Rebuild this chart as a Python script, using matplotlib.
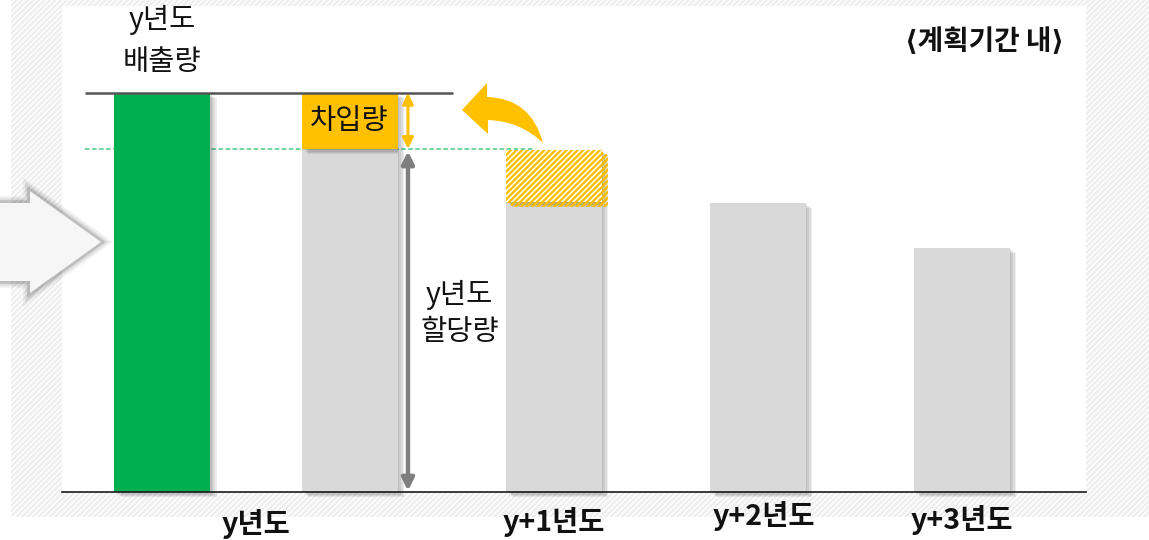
import matplotlib
matplotlib.use('Agg')
import matplotlib.pyplot as plt
import matplotlib.patches as mpatches
import matplotlib.patheffects as pe
from matplotlib.path import Path

plt.rcParams['font.family'] = ['Noto Sans CJK KR', 'DejaVu Sans']
plt.rcParams['hatch.linewidth'] = 1.7

# ---------------- data ----------------
categories = ['y년도', 'y+1년도', 'y+2년도', 'y+3년도']
emission_y = 100.0                      # y년도 배출량
allocations = [86.0, 72.7, 72.4, 61.2]  # 할당량 per year
borrowing_y = 14.0                      # 차입량 (box on y-year allocation)
borrowed_y1 = 13.0                      # hatched part taken from y+1
emission_label = ['y년도', '배출량']
allocation_label = 'y년도\n할당량'
borrow_label = '차입량'
period_label = '⟨계획기간 내⟩'

# ---------------- layout ----------------
W, H = 1149, 540
fig = plt.figure(figsize=(W / 100, H / 100), dpi=100)


def fpt(x, y):
    """top-left pixel -> figure fraction"""
    return (x / W, 1 - y / H)


# hatched background
bg = mpatches.Rectangle(fpt(11, 517), (W - 11) / W, 517 / H, transform=fig.transFigure,
                        facecolor='white', edgecolor='#eeeeee', hatch='//////', lw=0, zorder=-5)
fig.patches.append(bg)

ax = fig.add_axes([62 / W, 1 - 492 / H, (1086 - 62) / W, (492 - 6) / H])
ax.set_facecolor('white')
ax.set_xlim(-0.49, 4.53)
ax.set_ylim(0, 121.8)
for s in ['top', 'right', 'left']:
    ax.spines[s].set_visible(False)
ax.spines['bottom'].set_color('#1a1a1a')
ax.spines['bottom'].set_linewidth(1.2)
ax.spines['bottom'].set_zorder(6)
ax.set_xticks([])
ax.set_yticks([])

x_green = 0.0
bar_x = [0.92, 1.92, 2.92, 3.92]
bw = 0.47

shadow = [pe.SimplePatchShadow(offset=(o, -o * 0.8), shadow_rgbFace='black', alpha=0.07)
          for o in (1.2, 2.4, 3.6, 4.8)] + [pe.Normal()]

g = ax.bar(x_green, emission_y, bw, color='#00b050', zorder=3, clip_on=False)
gr = ax.bar(bar_x, allocations, bw, color='#d9d9d9', zorder=3, clip_on=False)
ob = ax.bar(bar_x[0], borrowing_y, bw, bottom=allocations[0], color='#ffc000', zorder=3,
            clip_on=False)
hb = ax.bar(bar_x[1], borrowed_y1, bw, bottom=allocations[1], facecolor='white',
            edgecolor='#ffbf00', hatch='//////', lw=0, zorder=3, clip_on=False)
for cont in (g, gr, ob, hb):
    for p in cont:
        p.set_path_effects(shadow)

# reference lines
ax.plot([-0.377, 1.426], [emission_y, emission_y], color='#555555', lw=1.8, zorder=4,
        solid_capstyle='butt')
ax.plot([-0.377, 1.83], [allocations[0], allocations[0]], color='#4cc98a', lw=1.1,
        ls=(0, (3, 1.6)), zorder=2)

# arrows
ax_x = 1.206
ax.annotate('', xy=(ax_x, emission_y), xytext=(ax_x, allocations[0]),
            arrowprops=dict(arrowstyle='<|-|>', color='#ffc000', lw=2.2, mutation_scale=16,
                            shrinkA=0, shrinkB=0), zorder=5)
ax.annotate('', xy=(ax_x, allocations[0] - 0.6), xytext=(ax_x, 0.3),
            arrowprops=dict(arrowstyle='<|-|>', color='#7f7f7f', lw=3.2, mutation_scale=18,
                            shrinkA=0, shrinkB=0), zorder=5)

# texts
ax.text(x_green, 118.3, emission_label[0], ha='center', va='center', fontsize=20.5, color='#111')
ax.text(x_green, 107.8, emission_label[1], ha='center', va='center', fontsize=20.5, color='#111')
ax.text(bar_x[0], allocations[0] + borrowing_y / 2, borrow_label, ha='center', va='center',
        fontsize=20.5, color='#111', zorder=6)
ax.text(1.46, 44.8, allocation_label, ha='center', va='center', fontsize=20.5, color='#111',
        linespacing=1.3)
ax.text(4.034, 112.8, period_label, ha='center', va='center', fontsize=20, fontweight='bold',
        color='#111')

label_x = [0.46, 1.92, 2.95, 3.92]
label_y = [-7.9, -7.6, -6.1, -6.9]
for lx, ly, c in zip(label_x, label_y, categories):
    ax.text(lx, ly, c, ha='center', va='center', fontsize=20.5, fontweight='bold', color='#111',
            clip_on=False)

# big left arrow (decoration)
pts = [(-5, 203), (30, 203), (30, 191), (101, 242), (30, 293), (30, 281), (-5, 281), (-5, 203)]
verts = [fpt(x, y) for x, y in pts]
la = mpatches.Polygon(verts, closed=True, transform=fig.transFigure, facecolor='#f6f6f6',
                      edgecolor='none', zorder=5)
la.set_path_effects([pe.Stroke(linewidth=10, foreground='#000000', alpha=0.05),
                     pe.Stroke(linewidth=7, foreground='#000000', alpha=0.08),
                     pe.Stroke(linewidth=4, foreground='#000000', alpha=0.14),
                     pe.Normal()])
fig.patches.append(la)

# curved orange arrow (decoration)
cv = [(462, 110), (487, 83), (487, 97), (531, 98), (543, 143), (520, 121), (488, 120),
      (488, 134), (462, 110)]
codes = [Path.MOVETO, Path.LINETO, Path.LINETO, Path.CURVE3, Path.CURVE3, Path.CURVE3,
         Path.CURVE3, Path.LINETO, Path.CLOSEPOLY]
cpath = Path([fpt(x, y) for x, y in cv], codes)
ca = mpatches.PathPatch(cpath, transform=fig.transFigure, facecolor='#ffc000',
                        edgecolor='none', zorder=5)
fig.patches.append(ca)

fig.savefig('out.png', dpi=100)
